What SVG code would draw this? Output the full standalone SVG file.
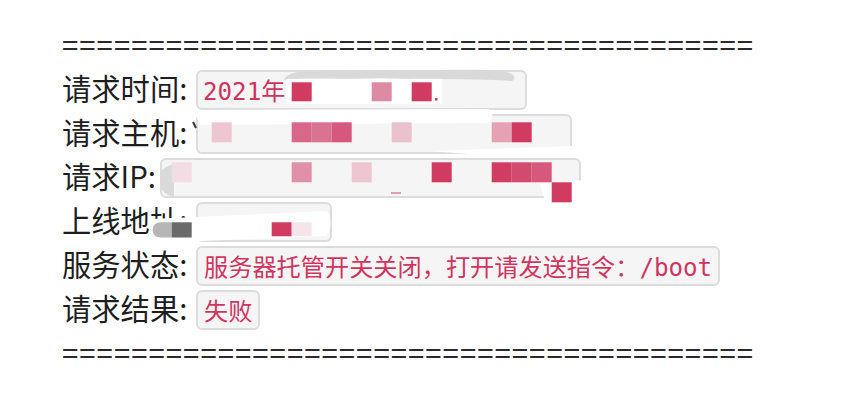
<svg xmlns="http://www.w3.org/2000/svg" width="850" height="402" viewBox="0 0 850 402">
<style>
.lbl{font-family:"Noto Sans CJK SC","Noto Sans",sans-serif;font-size:29.3px;fill:#1e1e1e}
.eq{font-family:"Noto Sans CJK SC","Noto Sans",sans-serif;font-size:29.3px;fill:#2a2a2a}
.code{font-family:"DejaVu Sans Mono","Noto Sans CJK SC",monospace;font-size:24.2px;fill:#d0355f}
.box{fill:#f5f5f5;stroke:#dcdcdc;stroke-width:2}
.wh{fill:#ffffff}
.cl{fill:#d9d9d9}
</style>
<rect width="850" height="402" fill="#ffffff"/>
<g id="rule-top"><text class="eq" x="62" y="56" textLength="691" lengthAdjust="spacing">========================================</text></g>

<g id="row-time">
<text class="lbl" x="62" y="100">请求时间:</text>
<rect class="box" x="197" y="71" width="329" height="38" rx="5"/>
<text class="code" x="203" y="100">2021年</text>
<path class="cl" d="M284,80 C286,73 298,70 318,72 C338,69 360,73 384,70 C420,72 462,68 500,71 C512,72 518,77 512,81 C470,78 420,80 380,78 C340,80 310,77 284,80 Z"/>
<rect class="wh" x="286" y="79" width="156" height="25"/>
<rect x="291.7" y="82.3" width="20" height="19" fill="#d13a61"/>
<rect x="371.7" y="82.3" width="20" height="19" fill="#dd8aa3"/>
<rect x="411.7" y="82.3" width="20" height="19" fill="#d13a61"/>
<rect x="435" y="98" width="2.5" height="2.5" fill="#d0355f"/>
</g>

<g id="row-host">
<text class="lbl" x="62" y="144">请求主机:</text>
<rect class="box" x="197" y="115" width="374" height="38" rx="5"/>
<path class="wh" d="M195,110 L488,109 C494,112 494,120 488,123 L199,125 Z"/>
<path d="M193,122 L196,128" stroke="#333" stroke-width="2" fill="none"/>
<rect x="211.7" y="122.3" width="20" height="20" fill="#edc6d2"/>
<rect x="291.7" y="122.3" width="20" height="20" fill="#d96789"/>
<rect x="311.7" y="122.3" width="20" height="20" fill="#da7391"/>
<rect x="331.7" y="122.3" width="20" height="20" fill="#d5597e"/>
<rect x="391.7" y="122.3" width="20" height="20" fill="#ecc1ce"/>
<rect x="491.7" y="122.3" width="20" height="20" fill="#e4a2b4"/>
<rect x="511.7" y="122.3" width="20" height="20" fill="#d13a61"/>
</g>

<g id="row-ip">
<text class="lbl" x="62" y="188">请求IP:</text>
<rect class="box" x="161" y="159" width="419" height="38" rx="5"/>
<path class="wh" d="M430,151 L572,146 C580,150 588,156 590,158 L520,158 Z"/>
<path class="cl" d="M174,165 C164,165 159,172 160,180 C160,190 165,196 174,196 Z"/>
<rect x="171.7" y="162.3" width="20" height="20" fill="#f3dce4"/>
<rect x="291.7" y="162.3" width="20" height="20" fill="#e090a8"/>
<rect x="351.7" y="162.3" width="20" height="20" fill="#edc6d2"/>
<rect x="431.7" y="162.3" width="20" height="20" fill="#d13b62"/>
<rect x="491.7" y="162.3" width="20" height="20" fill="#d13c62"/>
<rect x="511.7" y="162.3" width="20" height="20" fill="#d34a6f"/>
<rect x="531.7" y="162.3" width="20" height="20" fill="#d6597d"/>
<path class="wh" d="M540,184 L584,180 C590,186 592,196 590,203 L546,205 Z"/>
<rect x="551.7" y="182.3" width="20" height="20" fill="#d13a61"/>
<rect x="391" y="192" width="10" height="2" fill="#e29fb1"/>
</g>

<g id="row-online">
<text class="lbl" x="62" y="232">上线地址:</text>
<rect class="box" x="197" y="203" width="134" height="38" rx="5"/>
<path class="wh" d="M150,219 L326,211 C332,214 332,232 326,236 L150,243 Z"/>
<path d="M161,222.3 L171.7,222.3 L171.7,237.5 L161,237.5 C155,237.5 152.7,234 152.7,230 C152.7,226 155,222.3 161,222.3 Z" fill="#b6b6b6"/>
<rect x="171.7" y="222.3" width="20" height="15.2" fill="#6a6a6a"/>
<rect x="271.7" y="222.3" width="20" height="14" fill="#d13a61"/>
<rect x="291.7" y="222.3" width="20" height="14" fill="#f5e4ea"/>
</g>

<g id="row-status">
<text class="lbl" x="62" y="276">服务状态:</text>
<rect class="box" x="197" y="247" width="522" height="38" rx="5"/>
<text class="code" x="204" y="276">服务器托管开关关闭，打开请发送指令：/boot</text>
</g>

<g id="row-result">
<text class="lbl" x="62" y="320">请求结果:</text>
<rect class="box" x="197" y="291" width="62" height="38" rx="5"/>
<text class="code" x="204" y="320">失败</text>
</g>

<g id="rule-bottom"><text class="eq" x="62" y="364" textLength="691" lengthAdjust="spacing">========================================</text></g>
<g id="connectors"/>
</svg>
